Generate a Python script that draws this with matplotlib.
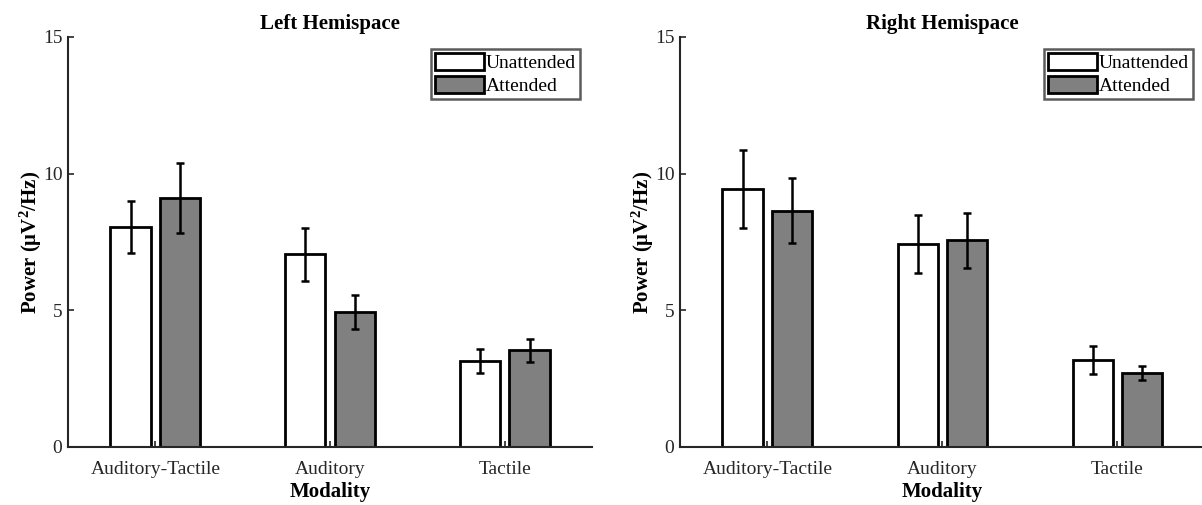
import matplotlib
matplotlib.use("Agg")
import matplotlib.pyplot as plt
import numpy as np

categories = ["Auditory-Tactile", "Auditory", "Tactile"]
series_names = ["Unattended", "Attended"]

left_unattended = [8.04, 7.05, 3.16]
left_unattended_err = [0.94, 0.97, 0.44]
left_attended = [9.11, 4.94, 3.53]
left_attended_err = [1.27, 0.61, 0.42]

right_unattended = [9.44, 7.42, 3.18]
right_unattended_err = [1.44, 1.05, 0.52]
right_attended = [8.65, 7.56, 2.71]
right_attended_err = [1.20, 1.00, 0.25]

titles = ["Left Hemispace", "Right Hemispace"]
yticks = [0, 5, 10, 15]

plt.rcParams['font.family'] = ['Liberation Serif', 'DejaVu Serif']
plt.rcParams['mathtext.fontset'] = 'custom'
plt.rcParams['mathtext.rm'] = 'Liberation Serif:bold'
plt.rcParams['mathtext.bf'] = 'Liberation Serif:bold'
plt.rcParams['mathtext.it'] = 'Liberation Serif:bold'

fig = plt.figure(figsize=(12.02, 5.05), dpi=100)
axes_pos = [[0.0566, 0.1149, 0.436, 0.812], [0.5657, 0.1149, 0.4368, 0.812]]

data = [
    (left_unattended, left_unattended_err, left_attended, left_attended_err),
    (right_unattended, right_unattended_err, right_attended, right_attended_err),
]

axcol = '#262626'
for i in range(2):
    ax = fig.add_axes(axes_pos[i])
    u, ue, a, ae = data[i]
    x = np.arange(1, len(categories) + 1)
    w = 0.23
    off = 0.142
    ax.bar(x - off, u, w, color='white', edgecolor='black', linewidth=2.0,
           label=series_names[0], zorder=2)
    ax.bar(x + off, a, w, color='#808080', edgecolor='black', linewidth=2.0,
           label=series_names[1], zorder=2)
    ax.errorbar(x - off, u, yerr=ue, fmt='none', ecolor='black', elinewidth=1.8,
                capsize=3, capthick=1.8, zorder=3)
    ax.errorbar(x + off, a, yerr=ae, fmt='none', ecolor='black', elinewidth=1.8,
                capsize=3, capthick=1.8, zorder=3)
    ax.set_xlim(0.5, 3.5)
    ax.set_ylim(0, 15)
    ax.set_yticks(yticks)
    ax.set_xticks(x)
    ax.set_xticklabels(categories)
    ax.tick_params(axis='both', direction='in', length=4, width=1.2,
                   labelsize=14, colors=axcol, labelcolor='#262626')
    ax.tick_params(axis='x', pad=10)
    ax.tick_params(axis='y', pad=4)
    for s in ['top', 'right']:
        ax.spines[s].set_visible(False)
    for s in ['left', 'bottom']:
        ax.spines[s].set_linewidth(1.5)
        ax.spines[s].set_color(axcol)
    ax.set_title(titles[i], fontsize=15, fontweight='bold', pad=6)
    ax.set_xlabel("Modality", fontsize=15, fontweight='bold', labelpad=3)
    ax.set_ylabel("Power (μV$^{2}$/Hz)", fontsize=15, fontweight='bold', labelpad=-1)
    leg = ax.legend(loc='upper right', fontsize=14, frameon=True, fancybox=False,
                    borderpad=0.2, handlelength=2.5, handleheight=0.95,
                    handletextpad=0.12, labelspacing=0.2, borderaxespad=0.62)
    leg.get_frame().set_edgecolor('#333333')
    leg.get_frame().set_linewidth(1.8)
    for p in leg.get_patches():
        p.set_linewidth(2.0)

fig.savefig("out.png", dpi=100)
